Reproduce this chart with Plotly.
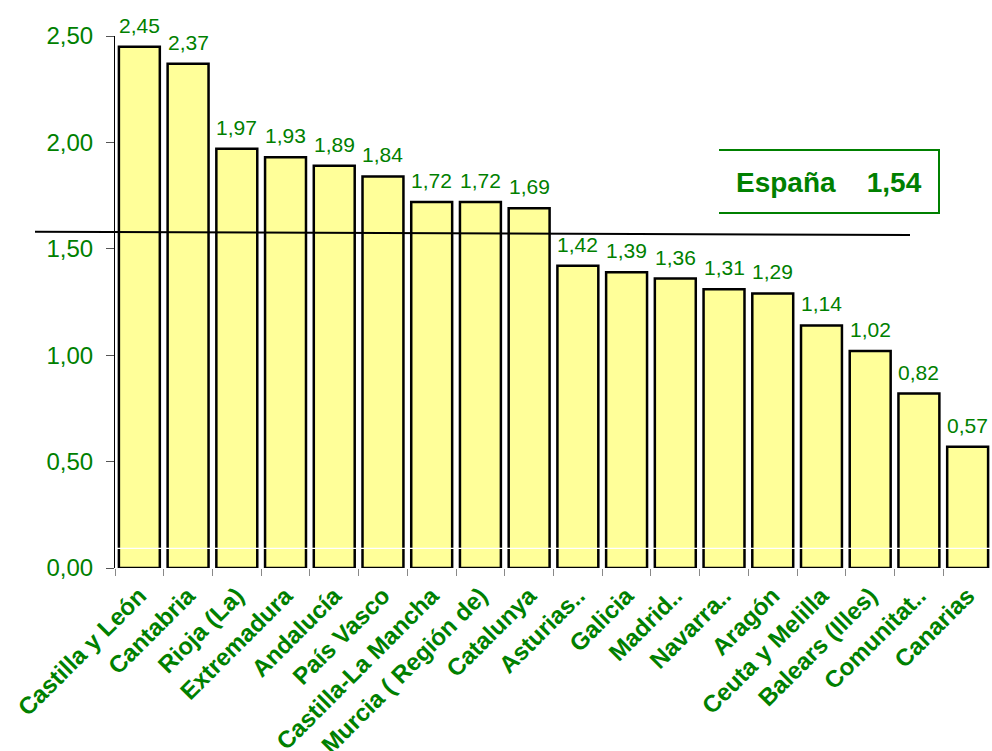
import plotly.graph_objects as go

categories = ["Castilla y León", "Cantabria", "Rioja (La)", "Extremadura", "Andalucía",
              "País Vasco", "Castilla-La Mancha", "Murcia ( Región de)", "Catalunya",
              "Asturias..", "Galicia", "Madrid..", "Navarra..", "Aragón",
              "Ceuta y Melilla", "Balears (Illes)", "Comunitat..", "Canarias"]
values = [2.45, 2.37, 1.97, 1.93, 1.89, 1.84, 1.72, 1.72, 1.69,
          1.42, 1.39, 1.36, 1.31, 1.29, 1.14, 1.02, 0.82, 0.57]
y_ticks = [0, 0.5, 1.0, 1.5, 2.0, 2.5]
espana_label = "España"
espana_value = 1.54
espana_line_y = [1.58, 1.565]
white_line_y = 0.092

GREEN = "#008000"
FONT = "Liberation Sans, Arial, sans-serif"

W, H = 992, 751
L, R, T, B = 115, 0, 36, 751 - 568
pw, ph = W - L - R, H - T - B


def px(x):
    return (x - L) / pw


def py(y):
    return (H - B - y) / ph


fig = go.Figure()
fig.add_trace(go.Bar(
    x=categories, y=values,
    marker=dict(color="#ffff99", line=dict(color="#000000", width=2.5)),
    width=0.84,
    hoverinfo="skip",
))

annotations = []
for c, v in zip(categories, values):
    annotations.append(dict(
        x=c, y=v, xref="x", yref="y", text=f"{v:.2f}".replace(".", ","),
        showarrow=False, yanchor="bottom", xanchor="center", yshift=8,
        font=dict(family=FONT, size=21, color=GREEN),
    ))

annotations.append(dict(
    x=px(829), y=py(182), xref="paper", yref="paper", xanchor="center", yanchor="middle",
    text=f"<b>{espana_label}&nbsp;&nbsp;&nbsp;&nbsp;{espana_value:.2f}</b>".replace(".", ","),
    showarrow=False, font=dict(family=FONT, size=28, color=GREEN),
))

shapes = [
    dict(type="line", xref="paper", yref="y", x0=px(35), x1=px(910),
         y0=espana_line_y[0], y1=espana_line_y[1], line=dict(color="#000000", width=2), layer="above"),
    dict(type="line", xref="paper", yref="y", x0=0, x1=1, y0=white_line_y, y1=white_line_y,
         line=dict(color="#ffffff", width=1.2), layer="above"),
    dict(type="path", xref="paper", yref="paper",
         path=f"M {px(719)} {py(150)} L {px(939)} {py(150)} L {px(939)} {py(213)} L {px(719)} {py(213)}",
         line=dict(color=GREEN, width=2)),
]

fig.update_layout(
    width=W, height=H,
    margin=dict(l=L, r=R, t=T, b=B),
    plot_bgcolor="#ffffff", paper_bgcolor="#ffffff",
    separators=",.",
    showlegend=False,
    annotations=annotations,
    shapes=shapes,
    font=dict(family=FONT, color=GREEN),
)
fig.update_xaxes(
    tickangle=-45, tickson="boundaries", ticks="outside", ticklen=7, tickcolor="#888888",
    showline=False, automargin=False,
    tickfont=dict(family=FONT, size=24, color=GREEN, weight="bold"),
    ticklabelstandoff=8,
    showgrid=False, fixedrange=True,
)
fig.update_yaxes(
    range=[0, 2.5], tickvals=y_ticks, tickformat=".2f",
    ticks="outside", ticklen=8, tickcolor="#555555",
    showline=True, linecolor="#000000", linewidth=1, automargin=False,
    tickfont=dict(family=FONT, size=24, color=GREEN),
    ticklabelstandoff=8,
    showgrid=False, zeroline=False, fixedrange=True,
)
fig.write_html(
    "out.html",
    config={"displayModeBar": False},
    post_script="document.body.style.margin='0';document.body.style.overflow='hidden';",
)
